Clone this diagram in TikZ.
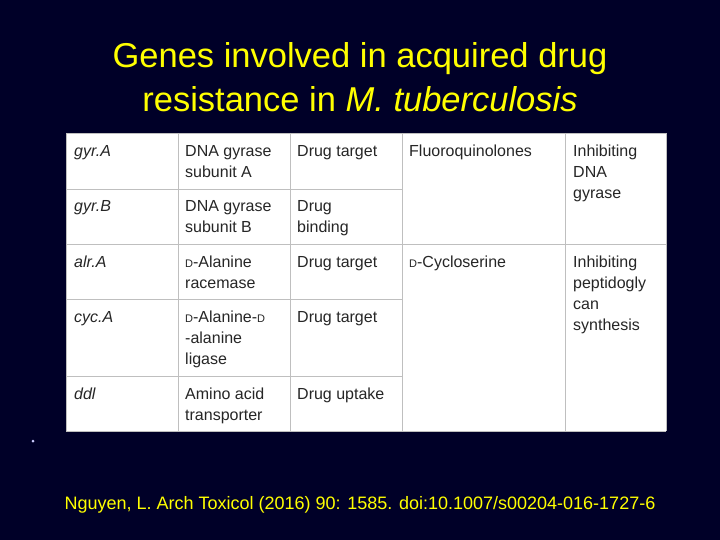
\documentclass[tikz,border=0pt]{standalone}
\usepackage{fontspec}
\setmainfont{Liberation Sans}
\begin{document}
\begin{tikzpicture}[x=1pt,y=-1pt,
  cell/.style={anchor=north west,align=left,font=\fontsize{16}{21}\selectfont,inner sep=0pt,text=black!85},
  grid/.style={draw=black!25,line width=0.8pt}]
\newcommand\dd{{\fontsize{11}{21}\selectfont D}}
\fill[fill={rgb,255:red,0;green,0;blue,40}] (0,0) rectangle (720,540);
\useasboundingbox (0,0) rectangle (720,540);
\node[text={rgb,255:red,255;green,255;blue,0},align=center,font=\fontsize{34.5}{44}\selectfont] (title) at (360,77) {Genes involved in acquired drug\\resistance in \textit{M. tuberculosis}};
\fill[white] (66,133) rectangle (666,431);
\foreach \x in {66,178,290,402,565,666} \draw[grid] (\x,133) -- (\x,431);
\draw[grid] (66,133) -- (666,133);
\draw[grid] (66,431) -- (666,431);
\foreach \y in {189,299,376} \draw[grid] (66,\y) -- (402,\y);
\draw[grid] (66,244) -- (666,244);
\node[cell] (a1) at (74,145) {\textit{gyr.A}};
\node[cell] (b1) at (185,145) {DNA gyrase\\subunit A};
\node[cell] (c1) at (297,145) {Drug target};
\node[cell] (d1) at (409,145) {Fluoroquinolones};
\node[cell] (e1) at (573,145) {Inhibiting\\DNA\\gyrase};
\node[cell] (a2) at (74,200) {\textit{gyr.B}};
\node[cell] (b2) at (185,200) {DNA gyrase\\subunit B};
\node[cell] (c2) at (297,200) {Drug\\binding};
\node[cell] (a3) at (74,256) {\textit{alr.A}};
\node[cell] (b3) at (185,256) {\dd-Alanine\\racemase};
\node[cell] (c3) at (297,256) {Drug target};
\node[cell] (d3) at (409,256) {\dd-Cycloserine};
\node[cell] (e3) at (573,256) {Inhibiting\\peptidogly\\can\\synthesis};
\node[cell] (a4) at (74,311) {\textit{cyc.A}};
\node[cell] (b4) at (185,311) {\dd-Alanine-\dd\\-alanine\\ligase};
\node[cell] (c4) at (297,311) {Drug target};
\node[cell] (a5) at (74,388) {\textit{ddl}};
\node[cell] (b5) at (185,388) {Amino acid\\transporter};
\node[cell] (c5) at (297,388) {Drug uptake};
\fill[white!80!blue] (33,441) circle (1.5);
\node[text={rgb,255:red,255;green,255;blue,0},font=\fontsize{18}{22}\selectfont] (cite) at (360,505) {Nguyen, L. Arch Toxicol (2016) 90: 1585. doi:10.1007/s00204-016-1727-6};
\end{tikzpicture}
\end{document}
